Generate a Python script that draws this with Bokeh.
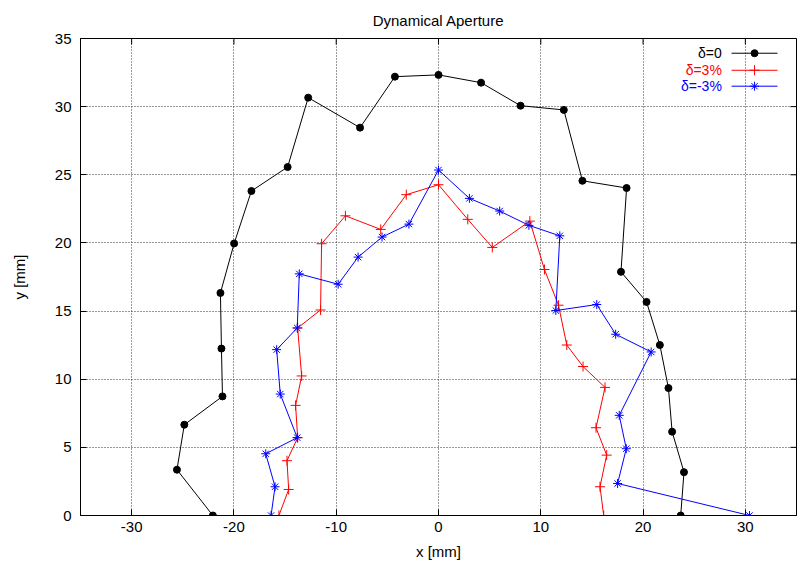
from bokeh.plotting import figure
from bokeh.models import Range1d, FixedTicker, Label
from bokeh.embed import file_html
from bokeh.resources import INLINE

# delta = 0
x_d0 = [-22.06, -25.57, -24.85, -21.12, -21.22, -21.32, -19.98, -18.29, -14.75, -12.74,
        -7.67, -4.26, 0.0, 4.16, 8.02, 12.25, 14.07, 18.39, 17.84, 20.34, 21.64, 22.48,
        22.84, 24.0, 23.68]
y_d0 = [0.0, 3.36, 6.66, 8.74, 12.25, 16.33, 19.96, 23.81, 25.57, 30.66,
        28.46, 32.2, 32.33, 31.76, 30.07, 29.76, 24.56, 24.03, 17.88, 15.67, 12.51, 9.35,
        6.15, 3.18, 0.0]
# delta = 3%
x_p3 = [-15.6, -14.65, -14.81, -13.77, -13.97, -13.38, -13.77, -11.53, -11.43, -9.1,
        -5.65, -3.15, 0.0, 2.86, 5.26, 8.93, 10.36, 11.73, 12.54, 14.13, 16.28, 15.4,
        16.44, 15.79, 16.15]
y_p3 = [0.0, 1.91, 4.02, 5.71, 8.08, 10.24, 13.76, 15.08, 19.94, 21.99,
        20.99, 23.54, 24.27, 21.73, 19.67, 21.6, 18.05, 15.43, 12.51, 10.93, 9.4, 6.44,
        4.43, 2.11, 0.0]
# delta = -3%
x_m3 = [-16.37, -15.98, -16.89, -13.81, -15.47, -15.82, -13.81, -13.61, -9.81, -7.86,
        -5.52, -2.89, 0.0, 3.02, 5.98, 8.84, 11.86, 11.47, 15.47, 17.32, 20.79, 17.67,
        18.36, 17.51, 30.41]
y_m3 = [0.0, 2.11, 4.53, 5.71, 8.91, 12.17, 13.76, 17.73, 16.97, 18.96,
        20.43, 21.38, 25.35, 23.27, 22.34, 21.29, 20.52, 15.04, 15.48, 13.3, 12.0, 7.35,
        4.9, 2.35, 0.0]

x_ticks = [-30, -20, -10, 0, 10, 20, 30]
y_ticks = [0, 5, 10, 15, 20, 25, 30, 35]
x_tick_labels = ["-30", "-20", "-10", "0", "10", "20", "30"]
y_tick_labels = ["0", "5", "10", "15", "20", "25", "30", "35"]
labels = ["δ=0", "δ=3%", "δ=-3%"]
colors = ["#000000", "#ff0000", "#0000ff"]

FONT = "Liberation Sans"
X_MIN, X_MAX, Y_MIN, Y_MAX = -35, 35, 0, 35

p = figure(width=797, height=564, x_range=Range1d(X_MIN, X_MAX), y_range=Range1d(Y_MIN, Y_MAX),
           output_backend="svg", toolbar_location=None,
           min_border_left=80, min_border_right=1, min_border_top=38, min_border_bottom=49,
           title="Dynamical Aperture")
p.title.align = "center"
p.title.text_font = FONT
p.title.text_font_size = "15px"
p.title.text_font_style = "normal"
p.title.text_color = "#000000"
p.title.standoff = 19

p.outline_line_color = "#000000"
p.outline_line_width = 1
p.background_fill_color = "white"
p.border_fill_color = "white"

for ax in [p.xaxis[0], p.yaxis[0]]:
    ax.major_tick_in = 6
    ax.major_tick_out = 0
    ax.minor_tick_in = 0
    ax.minor_tick_out = 0
    ax.axis_line_color = "#000000"
    ax.major_tick_line_color = "#000000"
    ax.major_label_text_font = FONT
    ax.major_label_text_font_size = "15px"
    ax.major_label_text_color = "#000000"
    ax.axis_label_text_font = FONT
    ax.axis_label_text_font_size = "15px"
    ax.axis_label_text_font_style = "normal"
    ax.axis_label_text_color = "#000000"

p.xaxis[0].ticker = FixedTicker(ticks=x_ticks)
p.yaxis[0].ticker = FixedTicker(ticks=y_ticks)
p.xaxis[0].major_label_overrides = dict(zip(x_ticks, x_tick_labels))
p.yaxis[0].major_label_overrides = dict(zip(y_ticks, y_tick_labels))
p.xaxis[0].axis_label = "x [mm]"
p.yaxis[0].axis_label = "y [mm]"
p.xaxis[0].major_label_standoff = 6
p.xaxis[0].axis_label_standoff = 8
p.yaxis[0].major_label_standoff = 9
p.yaxis[0].axis_label_standoff = 24

# mirrored inward ticks on top and right edges (6 px long)
tick_dy = 6 / 13.62
tick_dx = 6 / 10.24
p.segment(x0=x_ticks, y0=[Y_MAX] * len(x_ticks), x1=x_ticks, y1=[Y_MAX - tick_dy] * len(x_ticks),
          line_color="#000000", line_width=1)
p.segment(x0=[X_MAX] * len(y_ticks), y0=y_ticks, x1=[X_MAX - tick_dx] * len(y_ticks), y1=y_ticks,
          line_color="#000000", line_width=1)

p.xgrid.ticker = FixedTicker(ticks=x_ticks)
p.ygrid.ticker = FixedTicker(ticks=y_ticks)
p.grid.grid_line_color = "#333333"
p.grid.grid_line_dash = "1 2"
p.grid.grid_line_width = 1

# series
p.line(x_d0, y_d0, line_color=colors[0], line_width=1)
p.scatter(x_d0, y_d0, marker="circle", size=7, fill_color=colors[0], line_color=colors[0])
p.line(x_p3, y_p3, line_color=colors[1], line_width=1)
p.scatter(x_p3, y_p3, marker="cross", size=10, line_color=colors[1], line_width=1)
p.line(x_m3, y_m3, line_color=colors[2], line_width=1)
p.scatter(x_m3, y_m3, marker="asterisk", size=9, line_color=colors[2], line_width=1)

# legend (gnuplot style: text right-aligned, sample on the right)
leg_y = [33.92, 32.67, 31.5]
leg_markers = ["circle", "cross", "asterisk"]
leg_sizes = [7, 10, 9]
for lab, col, ly, mk, sz in zip(labels, colors, leg_y, leg_markers, leg_sizes):
    p.add_layout(Label(x=27.7, y=ly, text=lab, text_align="right", text_baseline="middle",
                       text_color=col, text_font=FONT, text_font_size="14px"))
    p.line([28.65, 33.14], [ly, ly], line_color=col, line_width=1)
    p.scatter([30.9], [ly], marker=mk, size=sz, fill_color=col, line_color=col, line_width=1)

open("out.html", "w").write(file_html(p, INLINE))
